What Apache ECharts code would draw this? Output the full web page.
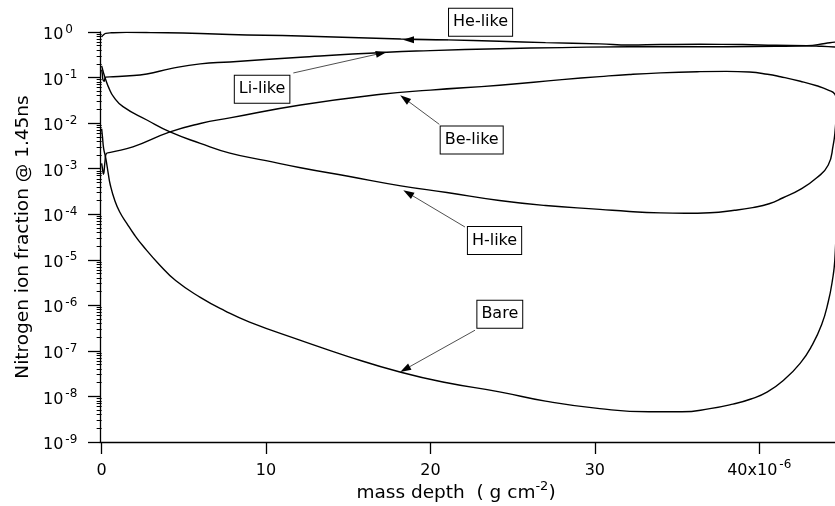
<!DOCTYPE html>
<html>
<head>
<meta charset="utf-8">
<script src="https://cdn.jsdelivr.net/npm/echarts@6/dist/echarts.min.js"></script>
<style>
  html, body { margin: 0; padding: 0; background: #fff; }
  #chart { width: 835px; height: 506px; }
</style>
</head>
<body>
<div id="chart"></div>
<script>
// Nitrogen ion-stage fractions versus mass depth (units of 1e-6 g cm^-2), t = 1.45 ns
const depthTicks = [0, 10, 20, 30, 40];
const fracTicks = [1e-9, 1e-8, 1e-7, 1e-6, 1e-5, 1e-4, 1e-3, 1e-2, 1e-1, 1];
const fracMinorTicks = [];
for (let e = -9; e < 0; e++) {
  for (let m = 2; m <= 9; m++) fracMinorTicks.push(m * Math.pow(10, e));
}

const heDepth = [0, 0.1, 0.25, 0.6, 1.5, 3, 6, 7.8, 12.1, 18.2, 21, 24.2, 27, 30.3, 32.1, 34, 36.4, 39, 41, 42.9, 43.8, 44.6, 44.8];
const heFrac  = [0.78, 0.86, 0.93, 0.96, 0.98, 0.97, 0.93, 0.88, 0.82, 0.70, 0.67, 0.625, 0.585, 0.55, 0.52, 0.53, 0.537, 0.53, 0.51, 0.50, 0.485, 0.47, 0.465];

const liDepth = [0, 0.04, 0.08, 0.15, 0.25, 0.7, 1.5, 2.75, 4.2, 6, 7.8, 12.1, 17.35, 20, 24.2, 28, 32.1, 36.4, 41, 42.9, 44, 44.6, 44.8];
const liFrac  = [0.15, 0.12, 0.09, 0.083, 0.102, 0.104, 0.108, 0.12, 0.157, 0.2, 0.22, 0.28, 0.36, 0.39, 0.43, 0.455, 0.475, 0.473, 0.486, 0.50, 0.56, 0.60, 0.61];

const beDepth = [0, 0.05, 0.11, 0.2, 0.27, 0.6, 1.9, 4.16, 6, 7.8, 12.1, 17, 20, 24.2, 28, 30.3, 32.1, 34, 36.4, 38, 39.4, 40.5, 41.3, 42.5, 43.5, 44.2, 44.6, 44.75];
const beFrac  = [0.0013, 0.001, 0.00075, 0.0014, 0.0021, 0.0023, 0.003, 0.0064, 0.0098, 0.013, 0.025, 0.043, 0.053, 0.068, 0.09, 0.105, 0.117, 0.127, 0.135, 0.137, 0.132, 0.118, 0.104, 0.083, 0.066, 0.053, 0.043, 0.025];

const hDepth = [0, 0.06, 0.15, 0.27, 0.45, 0.72, 1.3, 2.75, 4.16, 6, 7.8, 10, 12.1, 15, 18.2, 21, 24.2, 27, 30.3, 32.1, 34, 35.5, 37, 38.5, 39.6, 40.6, 41.45, 42.5, 43.5, 44.2, 44.5, 44.62, 44.7];
const hFrac  = [0.18, 0.15, 0.115, 0.085, 0.058, 0.038, 0.023, 0.0117, 0.0064, 0.0036, 0.0022, 0.0015, 0.00105, 0.00068, 0.00042, 0.0003, 0.0002, 0.000155, 0.000128, 0.000115, 0.000107, 0.000105, 0.000108, 0.000122, 0.00014, 0.00017, 0.00023, 0.00035, 0.00063, 0.0012, 0.0033, 0.007, 0.02];

const bareDepth = [0, 0.05, 0.12, 0.25, 0.4, 0.52, 0.8, 1.1, 1.53, 2, 2.52, 3.5, 4.5, 6, 7.5, 9, 12.1, 15, 18.2, 21, 24.2, 27, 30.3, 33.3, 35.3, 37, 38.4, 39.5, 40.5, 41.5, 42.5, 43.2, 43.8, 44.2, 44.45, 44.6, 44.7];
const bareFrac  = [0.0075, 0.005, 0.0028, 0.0017, 0.00079, 0.00045, 0.0002, 0.000112, 0.000063, 0.000035, 0.00002, 7.9e-6, 3.5e-6, 1.5e-6, 7.6e-7, 4.3e-7, 1.7e-7, 7.5e-8, 3.4e-8, 2.0e-8, 1.26e-8, 7.9e-9, 5.4e-9, 4.6e-9, 4.6e-9, 5.4e-9, 6.8e-9, 8.8e-9, 1.26e-8, 2.3e-8, 5.4e-8, 1.3e-7, 3.8e-7, 1.2e-6, 3.5e-6, 1e-5, 1e-4];

// annotation boxes and their arrows, in data coordinates [depth, fraction]
const noteNames = ['He-like', 'Li-like', 'Be-like', 'H-like', 'Bare'];
const noteBox  = [[23.05, 1.63], [9.76, 0.0552], [22.51, 4.26e-3], [23.9, 2.64e-5], [24.22, 6.37e-7]];
const noteTail = [[21.07, 0.674], [11.66, 0.126], [20.54, 9.4e-3], [22.1, 5.25e-5], [22.71, 2.84e-7]];
const noteTip  = [[18.33, 0.674], [17.34, 0.364], [18.16, 0.0408], [18.35, 3.36e-4], [18.16, 3.44e-8]];

const FONT = '"DejaVu Sans", "Liberation Sans", Arial, sans-serif';

function pairs(d, f) { return d.map((x, i) => [x, f[i]]); }

const curves = [
  ['He-like', heDepth, heFrac],
  ['Li-like', liDepth, liFrac],
  ['Be-like', beDepth, beFrac],
  ['H-like', hDepth, hFrac],
  ['Bare', bareDepth, bareFrac]
];

const tickRich = {
  b: { fontSize: 16, lineHeight: 17, padding: [6, 0, 0, 0], color: '#000', fontFamily: FONT },
  s: { fontSize: 12, lineHeight: 12, verticalAlign: 'top', padding: [0, 0, 0, 2], color: '#000', fontFamily: FONT }
};

const chart = echarts.init(document.getElementById('chart'), null, { renderer: 'canvas' });

chart.setOption({
  animation: false,
  backgroundColor: '#fff',
  grid: { left: 100, right: 0, top: 32, bottom: 64, containLabel: false, outerBoundsMode: 'none' },
  xAxis: {
    type: 'value',
    min: -0.1,
    max: 44.61,
    name: '{n|mass depth  ( g cm}{s|-2}{n|)}',
    nameLocation: 'middle',
    nameGap: 38,
    nameMoveOverlap: false,
    nameTextStyle: {
      padding: [0, 23, 0, 0],
      rich: {
        n: { fontSize: 18.5, lineHeight: 19, padding: [7, 0, 0, 0], color: '#000', fontFamily: FONT },
        s: { fontSize: 13, lineHeight: 13, verticalAlign: 'top', color: '#000', fontFamily: FONT }
      }
    },
    axisLine: { show: true, onZero: false, lineStyle: { color: '#000', width: 1.3 } },
    axisTick: { show: true, customValues: depthTicks, length: 12, lineStyle: { color: '#000', width: 1.3 } },
    axisLabel: {
      customValues: depthTicks,
      margin: 17,
      formatter: v => v === 40 ? '{b|40x10}{s|-6}' : '{b|' + v + '}',
      rich: tickRich
    },
    splitLine: { show: false }
  },
  yAxis: [
    {
      type: 'log',
      min: 1e-9,
      max: 1,
      name: 'Nitrogen ion fraction @ 1.45ns',
      nameLocation: 'middle',
      nameGap: 67,
      nameRotate: 90,
      nameMoveOverlap: false,
      nameTextStyle: { fontSize: 18.5, color: '#000', fontFamily: FONT },
      axisLine: { show: true, onZero: false, lineStyle: { color: '#000', width: 1.3 } },
      axisTick: { show: true, customValues: fracTicks, length: 12, lineStyle: { color: '#000', width: 1.3 } },
      axisLabel: {
        customValues: fracTicks,
        align: 'left',
        margin: 57,
        formatter: v => {
          const e = v > 0 ? Math.round(Math.log10(v)) : Math.round(v);
          return '{b|10}{s|' + e + '}';
        },
        rich: tickRich
      },
      splitLine: { show: false }
    },
    {
      type: 'log',
      min: 1e-9,
      max: 1,
      position: 'left',
      axisLine: { show: false },
      axisTick: { show: true, customValues: fracMinorTicks, length: 5, lineStyle: { color: '#000', width: 1 } },
      axisLabel: { show: false },
      splitLine: { show: false }
    }
  ],
  series: curves.map(([name, d, f]) => ({
    name,
    type: 'line',
    yAxisIndex: 0,
    data: pairs(d, f),
    showSymbol: false,
    symbol: 'none',
    smooth: 0.5,
    clip: true,
    lineStyle: { color: '#000', width: 1.4 }
  }))
});

// boxed labels with arrows pointing at each curve
function drawNotes() {
  const els = [];
  noteNames.forEach((name, i) => {
    const c = chart.convertToPixel({ seriesIndex: 0 }, noteBox[i]);
    const t = chart.convertToPixel({ seriesIndex: 0 }, noteTail[i]);
    const h = chart.convertToPixel({ seriesIndex: 0 }, noteTip[i]);
    const dx = h[0] - t[0], dy = h[1] - t[1];
    const len = Math.hypot(dx, dy);
    const ux = dx / len, uy = dy / len;
    const L = 11, W = 3.5;
    const bx = h[0] - ux * L, by = h[1] - uy * L;
    els.push({
      type: 'line', silent: true,
      shape: { x1: t[0], y1: t[1], x2: bx, y2: by },
      style: { stroke: '#222', lineWidth: 0.8 }
    });
    els.push({
      type: 'polygon', silent: true,
      shape: { points: [[h[0], h[1]], [bx - uy * W, by + ux * W], [bx + uy * W, by - ux * W]] },
      style: { fill: '#000' }
    });
    els.push({
      type: 'text', silent: true,
      x: c[0], y: c[1],
      style: {
        text: name,
        fontSize: 16,
        fontFamily: FONT,
        fill: '#000',
        align: 'center',
        verticalAlign: 'middle',
        lineHeight: 19,
        backgroundColor: '#fff',
        borderColor: '#000',
        borderWidth: 1,
        padding: [4, 4, 4, 4]
      }
    });
  });
  chart.setOption({ graphic: els });
}
drawNotes();
</script>
</body>
</html>
